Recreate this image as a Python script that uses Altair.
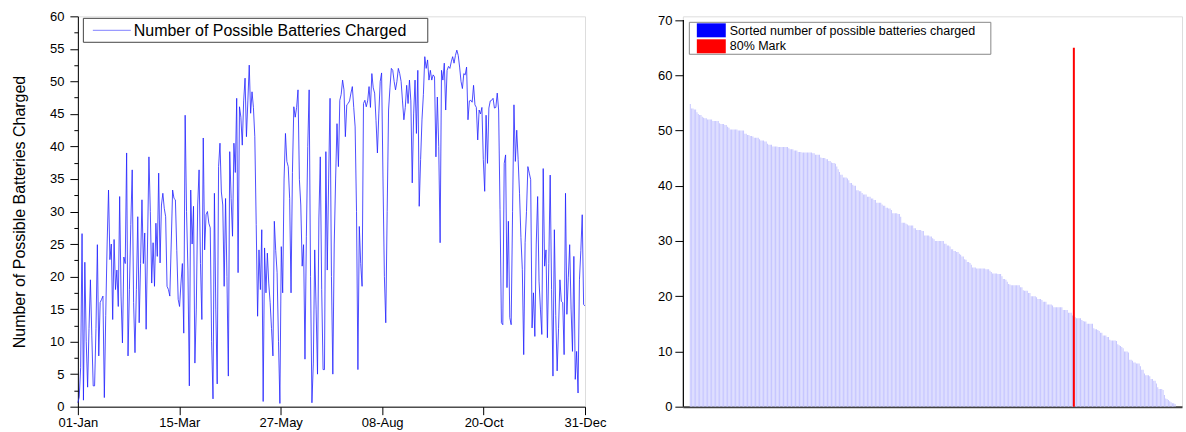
import json
import altair as alt
import pandas as pd

# ---- data ----
daily_values = [
    0.6, 1.5, 6, 26.6, 1, 22.2, 10, 3, 12, 19.5,
    11, 3.2, 3.2, 12, 24.9, 7.8, 16, 16.5, 17, 1.4,
    14, 25, 33.3, 22.6, 25, 13.4, 25.7, 18, 21, 15.4,
    32.3, 17, 9.8, 23, 22, 39, 7.8, 18, 28, 36.4,
    16, 8.3, 18, 29.2, 12.9, 22, 31.8, 22, 26.7, 11.9,
    25, 38.4, 30, 19, 25.2, 18.5, 28.2, 23.1, 35.9, 22.1,
    31, 32.8, 30.5, 29.2, 18.5, 18, 17, 25, 33.3, 32,
    31.8, 24, 16.5, 15.4, 19, 22, 11.3, 44.8, 30, 21,
    3.2, 33.3, 25, 30.8, 6.7, 15, 31, 36.4, 22, 13.4,
    41.3, 24.1, 29.5, 30, 28.2, 27.5, 10, 1.2, 32.8, 15,
    3.5, 36.9, 40.5, 33, 31, 18.5, 32, 20, 4.7, 39.2,
    32, 26.2, 40.5, 36, 47.4, 20.6, 46.1, 44.5, 40.2, 47,
    50.5, 41.5, 47, 52.5, 45.1, 48.4, 46, 41.5, 28, 13.9,
    24.1, 18, 27.2, 0.8, 24.4, 17.5, 23.6, 19, 16, 12,
    7.8, 28.5, 24, 20.6, 10, 0.5, 24.6, 17.5, 35, 42,
    37.7, 36.9, 32, 17.5, 36, 46.1, 44.5, 46, 48.7, 34.9,
    31, 21.6, 24.9, 7.3, 26.2, 40, 48.7, 20, 0.6, 6.7,
    24.1, 15, 5, 29, 38.4, 18, 5.7, 5.7, 39.2, 21,
    35, 47.4, 20, 5, 25, 35, 43.5, 36.9, 47.1, 48,
    50.2, 48.7, 41.5, 46.4, 46.6, 47, 48.2, 49.2, 46, 43,
    30, 5.7, 27.7, 22, 18.5, 46.6, 47.1, 46.1, 47, 49.2,
    46, 51.2, 49, 48.2, 44, 39, 45, 50, 51.3, 35,
    20, 12.9, 30, 45.6, 49, 52, 51.7, 50, 48.7, 50,
    52, 51.2, 50, 47, 44.1, 46, 49.4, 46.6, 50.2, 47,
    34.4, 45, 50.2, 42, 51.7, 30.8, 38, 44.2, 48, 53.8,
    52, 53.3, 50.2, 51.7, 50.2, 51, 50.7, 38.4, 47.6, 40,
    25.2, 51.7, 50.2, 52.8, 45.6, 51.7, 52.3, 52, 53, 53.8,
    52.8, 54, 54.8, 54, 52.2, 50, 48.9, 51.2, 51, 52.2,
    44.1, 47, 47.1, 46.8, 49.4, 46.4, 46, 41, 45.6, 45,
    46, 38, 33.1, 44.8, 37.4, 45.9, 47, 47.1, 47.4, 45.9,
    46, 48.2, 45.6, 30.3, 12.9, 12.6, 37.4, 38.7, 18.3, 28.5,
    13.7, 12.6, 30, 46.4, 37.7, 42.5, 38, 32.8, 26, 21.1,
    8, 25.2, 30, 36.9, 35.9, 34.9, 12.1, 17.5, 10.8, 25,
    32.3, 19.3, 15, 11.1, 36.6, 21.6, 24.1, 10.6, 22, 35.6,
    18, 4.7, 27.2, 14, 5.5, 12, 19.5, 16.2, 16, 8,
    32.8, 14.2, 19.8, 24.9, 15, 8.5, 23.1, 4.2, 8.5, 2.1,
    19.5, 24, 29.5, 15.7, 15.5,
]
tick_days = [0, 72.8, 145.6, 218.4, 291.2, 364]
tick_labels = ["01-Jan", "15-Mar", "27-May", "08-Aug", "20-Oct", "31-Dec"]
left_ticks = [i * 2.5 for i in range(25)]
right_ticks = [i * 5 for i in range(15)]
right_axis_range = [0, 70]
left_title = "Number of Possible Batteries Charged"
legend_left = "Number of Possible Batteries Charged"
legend_sorted = "Sorted number of possible batteries charged"
legend_mark = "80% Mark"
mark_rank = [288]
mark_low = [0]
mark_high = [65]

FONT = "Liberation Sans"

df_left = pd.DataFrame({"day": list(range(len(daily_values))), "value": daily_values})
sorted_vals = sorted(daily_values, reverse=True)
df_right = pd.DataFrame({"rank": list(range(len(sorted_vals))), "value": sorted_vals})
df_mark = pd.DataFrame({"rank": mark_rank, "low": mark_low, "high": mark_high})
df_raxis = pd.DataFrame({"low": [right_axis_range[0]], "high": [right_axis_range[1]]})

label_expr = f"{json.dumps(tick_labels)}[round(datum.value / {tick_days[1]})]"

base_axis = dict(grid=False, domainColor="black", tickColor="black", labelColor="black",
                 labelFont=FONT, labelFontSize=13)

# ---------- left chart ----------
line = alt.Chart(df_left).mark_line(color="#2222ff", strokeWidth=0.8).encode(
    x=alt.X("day:Q", scale=alt.Scale(domain=[0, 364], nice=False, zero=False),
            axis=alt.Axis(values=tick_days, labelExpr=label_expr, title=None,
                          labelFlush=False, tickSize=8, labelPadding=2, **base_axis)),
    y=alt.Y("value:Q", scale=alt.Scale(domain=[0, 60], nice=False),
            axis=alt.Axis(values=left_ticks,
                          labelExpr="datum.value % 5 === 0 ? datum.label : ''",
                          tickSize={"condition": {"test": "datum.value % 5 === 0", "value": 8},
                                    "value": 4},
                          labelPadding=6,
                          title=left_title, titleFont=FONT, titleFontSize=16,
                          titleFontWeight="normal", titleColor="black",
                          titlePadding=22, **base_axis)),
)

leg_l_df = pd.DataFrame({"label": [legend_left]})
leg_l_box = alt.Chart(leg_l_df).mark_rect(fill="white", stroke="#444444", strokeWidth=1).encode(
    x=alt.value(5.5), x2=alt.value(350.5), y=alt.value(2), y2=alt.value(26))
leg_l_line = alt.Chart(leg_l_df).mark_rule(color="#9a9aff", strokeWidth=1.2).encode(
    x=alt.value(15), x2=alt.value(53), y=alt.value(14))
leg_l_text = alt.Chart(leg_l_df).mark_text(align="left", baseline="middle", font=FONT,
                                           fontSize=16, color="black").encode(
    x=alt.value(56), y=alt.value(14.5), text="label:N")

left = alt.layer(line, leg_l_box, leg_l_line, leg_l_text).properties(width=508, height=391)

# ---------- right chart ----------
bars = alt.Chart(df_right).mark_bar(size=1, color="#c6c6ff").encode(
    x=alt.X("rank:Q", scale=alt.Scale(domain=[-1.84, 365.46], nice=False, zero=False),
            axis=alt.Axis(labels=False, ticks=False, title=None, grid=False,
                          domainColor="#404040", domainWidth=2)),
    y=alt.Y("value:Q", scale=alt.Scale(domain=[0, 70.67], nice=False),
            axis=alt.Axis(values=right_ticks, domain=False,
                          labelExpr="datum.value % 10 === 0 ? datum.label : ''",
                          tickSize={"condition": {"test": "datum.value % 10 === 0", "value": 8},
                                    "value": 4},
                          labelPadding=3, title=None, **base_axis)),
)
raxis = alt.Chart(df_raxis).mark_rule(color="black", strokeWidth=1.2).encode(
    x=alt.value(0.5), y="low:Q", y2="high:Q")
redline = alt.Chart(df_mark).mark_rule(color="#ff0000", strokeWidth=2).encode(
    x="rank:Q", y="low:Q", y2="high:Q")

leg_r_df = pd.DataFrame({"label": [legend_sorted]})
leg_r_box = alt.Chart(leg_r_df).mark_rect(fill="white", stroke="#888888", strokeWidth=1).encode(
    x=alt.value(6.5), x2=alt.value(308.5), y=alt.value(6), y2=alt.value(38))
leg_r_blue = alt.Chart(leg_r_df).mark_rect(fill="#0000ff").encode(
    x=alt.value(14), x2=alt.value(43), y=alt.value(7), y2=alt.value(21))
leg_r_red = alt.Chart(leg_r_df).mark_rect(fill="#ff0000").encode(
    x=alt.value(14), x2=alt.value(43), y=alt.value(23), y2=alt.value(37))
leg_r_t1 = alt.Chart(leg_r_df).mark_text(align="left", baseline="middle", font=FONT,
                                         fontSize=12.5, color="black").encode(
    x=alt.value(47), y=alt.value(15), text=alt.value(legend_sorted))
leg_r_t2 = alt.Chart(leg_r_df).mark_text(align="left", baseline="middle", font=FONT,
                                         fontSize=12.5, color="black").encode(
    x=alt.value(47), y=alt.value(30), text=alt.value(legend_mark))

right = alt.layer(bars, raxis, redline, leg_r_box, leg_r_blue, leg_r_red,
                  leg_r_t1, leg_r_t2).properties(width=500, height=391)

chart = alt.hconcat(left, right, spacing=98, bounds="flush").properties(
    padding={"left": 11, "top": 9, "right": 3, "bottom": 2}
).configure_view(stroke=None).configure(background="white")

chart.save("out.html", embed_options={"renderer": "svg", "actions": False})
